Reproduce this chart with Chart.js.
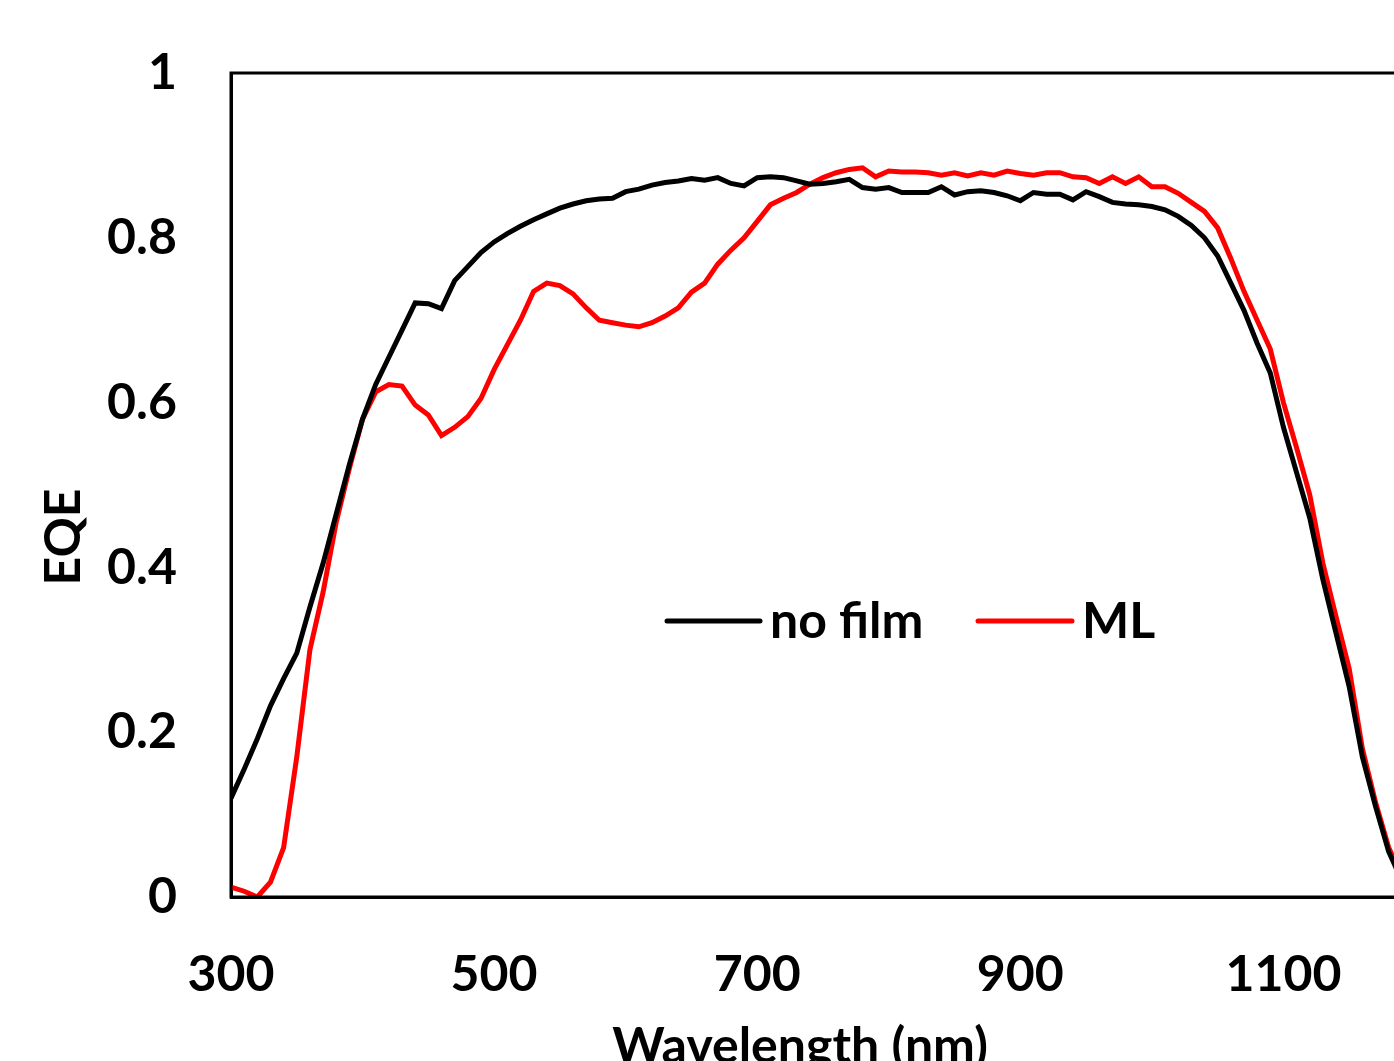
<!DOCTYPE html>
<html>
<head>
<meta charset="utf-8">
<script src="https://cdn.jsdelivr.net/npm/chart.js@4.4.0/dist/chart.umd.min.js"></script>
<style>
  html, body { margin: 0; padding: 0; background: #fff; overflow: hidden; }
  #wrap { position: relative; width: 1440px; height: 1061px; }
</style>
</head>
<body>
<div id="wrap"><canvas id="c"></canvas></div>
<script>
// ---- data ----
const wavelengths = [300,310,320,330,340,350,360,370,380,390,400,410,420,430,440,450,460,470,480,490,
  500,510,520,530,540,550,560,570,580,590,600,610,620,630,640,650,660,670,680,690,
  700,710,720,730,740,750,760,770,780,790,800,810,820,830,840,850,860,870,880,890,
  900,910,920,930,940,950,960,970,980,990,1000,1010,1020,1030,1040,1050,1060,1070,1080,1090,
  1100,1110,1120,1130,1140,1150,1160,1170,1180,1190,1200];
const noFilm = [0.120,0.155,0.192,0.232,0.265,0.296,0.352,0.405,0.465,0.525,0.580,0.622,0.655,0.688,0.721,0.720,0.714,0.748,0.765,0.782,
  0.795,0.805,0.814,0.822,0.829,0.836,0.841,0.845,0.847,0.848,0.856,0.859,0.864,0.867,0.869,0.872,0.870,0.873,0.866,0.863,
  0.873,0.874,0.873,0.869,0.865,0.866,0.868,0.871,0.861,0.859,0.861,0.855,0.855,0.855,0.862,0.852,0.856,0.857,0.855,0.851,
  0.845,0.855,0.853,0.853,0.846,0.856,0.850,0.843,0.841,0.840,0.838,0.834,0.826,0.815,0.800,0.778,0.745,0.712,0.672,0.636,
  0.570,0.515,0.460,0.385,0.320,0.255,0.170,0.110,0.055,0.020,0.008];
const ml = [0.012,0.007,0.000,0.018,0.060,0.170,0.300,0.370,0.455,0.520,0.580,0.613,0.622,0.620,0.597,0.585,0.560,0.570,0.583,0.605,
  0.640,0.670,0.700,0.735,0.745,0.742,0.732,0.715,0.700,0.697,0.694,0.692,0.697,0.705,0.715,0.734,0.745,0.768,0.785,0.800,
  0.820,0.840,0.848,0.855,0.865,0.873,0.879,0.883,0.885,0.874,0.881,0.880,0.880,0.879,0.876,0.879,0.875,0.879,0.876,0.881,
  0.878,0.876,0.879,0.879,0.874,0.873,0.866,0.874,0.866,0.874,0.862,0.862,0.854,0.843,0.832,0.812,0.775,0.735,0.700,0.665,
  0.600,0.545,0.488,0.405,0.340,0.277,0.180,0.115,0.060,0.025,0.010];
const seriesNames = ['no film', 'ML'];
const xTicks = [300, 500, 700, 900, 1100];
const yTicks = [0, 0.2, 0.4, 0.6, 0.8, 1];
const xTitle = 'Wavelength (nm)';
const yTitle = 'EQE';

// ---- chart ----
const FONT = { family: 'Lato, "Liberation Sans", sans-serif', size: 50, weight: 'bold' };
const fontStr = 'bold 50px Lato, "Liberation Sans", sans-serif';

const extras = {
  id: 'extras',
  afterDraw(chart) {
    const { ctx, chartArea: a } = chart;
    ctx.save();
    // frame
    ctx.strokeStyle = '#000';
    ctx.lineWidth = 3;
    ctx.strokeRect(a.left, a.top, a.right - a.left, a.bottom - a.top);
    // axis titles
    ctx.fillStyle = '#000';
    ctx.font = fontStr;
    ctx.textAlign = 'center';
    ctx.textBaseline = 'alphabetic';
    ctx.fillText(xTitle, 800, 1063);
    ctx.save();
    ctx.translate(80, 537);
    ctx.rotate(-Math.PI / 2);
    ctx.fillText(yTitle, 0, 0);
    ctx.restore();
    // legend
    const items = [
      { x0: 667, x1: 760, tx: 770 },
      { x0: 978, x1: 1072, tx: 1082 }
    ];
    ctx.lineCap = 'round';
    ctx.textAlign = 'left';
    chart.data.datasets.forEach((ds, i) => {
      const it = items[i];
      ctx.strokeStyle = ds.borderColor;
      ctx.lineWidth = 5;
      ctx.beginPath();
      ctx.moveTo(it.x0, 621);
      ctx.lineTo(it.x1, 621);
      ctx.stroke();
      ctx.fillStyle = '#000';
      ctx.fillText(ds.label, it.tx, 638);
    });
    ctx.restore();
  }
};

new Chart(document.getElementById('c'), {
  type: 'line',
  data: {
    datasets: [
      { label: seriesNames[0], data: wavelengths.map((w, i) => ({ x: w, y: noFilm[i] })),
        borderColor: '#000000', borderWidth: 5, pointRadius: 0, tension: 0, fill: false },
      { label: seriesNames[1], data: wavelengths.map((w, i) => ({ x: w, y: ml[i] })),
        borderColor: '#ff0000', borderWidth: 5, pointRadius: 0, tension: 0, fill: false }
    ]
  },
  options: {
    responsive: true,
    maintainAspectRatio: false,
    animation: false,
    devicePixelRatio: 1,
    layout: { padding: { top: 73, right: 25, left: 0, bottom: 0 } },
    plugins: { legend: { display: false }, tooltip: { enabled: false } },
    scales: {
      x: {
        type: 'linear', min: 300, max: 1200,
        grid: { display: false, drawTicks: false },
        border: { display: true, color: '#000', width: 3 },
        ticks: { font: FONT, color: '#000', padding: 48, maxRotation: 0, callback: v => String(v) },
        afterBuildTicks: s => { s.ticks = xTicks.map(v => ({ value: v })); },
        afterFit: s => { s.height = 164; s.paddingLeft = 0; s.paddingRight = 0; }
      },
      y: {
        type: 'linear', min: 0, max: 1,
        grid: { display: false, drawTicks: false },
        border: { display: true, color: '#000', width: 3 },
        ticks: { font: FONT, color: '#000', padding: 54, callback: v => String(v) },
        afterBuildTicks: s => { s.ticks = yTicks.map(v => ({ value: v })); },
        afterFit: s => { s.width = 231; s.paddingTop = 0; s.paddingBottom = 0; }
      }
    }
  },
  plugins: [extras]
});
</script>
</body>
</html>
